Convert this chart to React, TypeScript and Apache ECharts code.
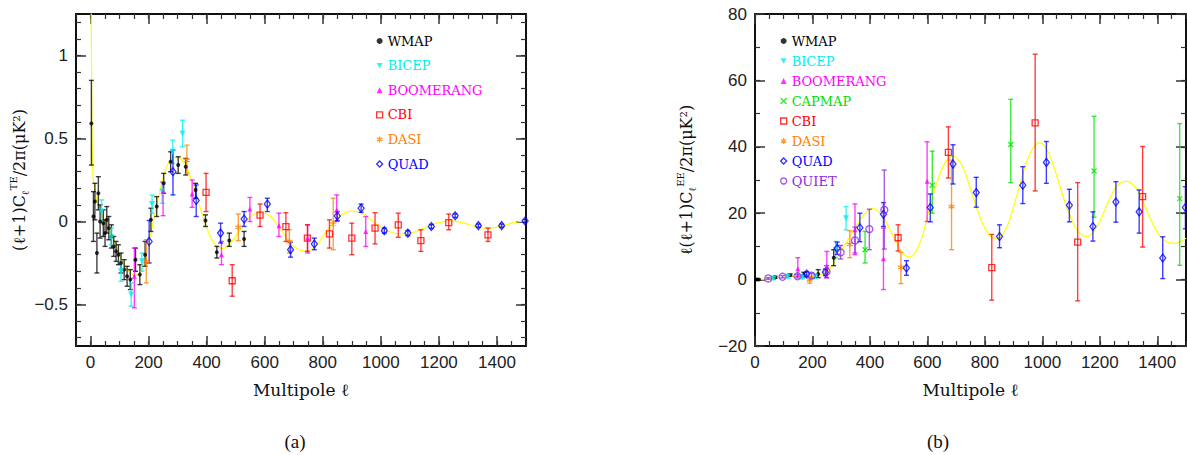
import React, { useEffect, useRef } from 'react';
import * as echarts from 'echarts';

// ---------- colours ----------
const COLORS: Record<string, string> = {
  WMAP: '#000000',
  BICEP: '#00eeee',
  BOOMERANG: '#ff00ff',
  CAPMAP: '#00e000',
  CBI: '#ff0000',
  DASI: '#ff8000',
  QUAD: '#0000ff',
  QUIET: '#8b2be2',
};

// ---------- TE panel data: [l, value, low, high] ----------
const wmapTE = [
  [3, 0.59, 0.34, 0.85], [10, 0.03, -0.12, 0.18], [15, 0.12, 0.01, 0.23], [22, -0.19, -0.31, -0.07],
  [27, 0.17, 0.07, 0.27], [33, 0.0, -0.1, 0.1], [44, -0.01, -0.09, 0.07], [50, -0.07, -0.15, 0.01],
  [56, 0.01, -0.07, 0.09], [63, -0.04, -0.11, 0.03], [72, -0.09, -0.16, -0.02], [80, -0.15, -0.21, -0.09],
  [88, -0.18, -0.24, -0.12], [96, -0.2, -0.26, -0.14], [105, -0.25, -0.31, -0.19], [116, -0.29, -0.35, -0.23],
  [126, -0.33, -0.39, -0.27], [137, -0.35, -0.41, -0.29], [155, -0.23, -0.3, -0.16], [170, -0.32, -0.38, -0.26],
  [188, -0.2, -0.27, -0.12], [208, 0.01, -0.06, 0.08], [228, 0.09, 0.03, 0.15], [252, 0.23, 0.17, 0.29],
  [276, 0.36, 0.3, 0.42], [302, 0.34, 0.29, 0.39], [328, 0.33, 0.28, 0.38], [362, 0.19, 0.14, 0.23],
  [396, 0.006, -0.03, 0.04], [435, -0.185, -0.22, -0.15], [478, -0.115, -0.15, -0.07], [529, -0.105, -0.15, -0.06],
];
const bicepTE = [
  [38, 0.06, 0.0, 0.13], [72, -0.095, -0.14, -0.04], [105, -0.3, -0.36, -0.24], [140, -0.44, -0.51, -0.37],
  [177, -0.24, -0.3, -0.19], [212, 0.105, 0.05, 0.16], [247, 0.18, 0.11, 0.24], [283, 0.42, 0.35, 0.49],
  [317, 0.53, 0.45, 0.61],
];
const boomTE = [
  [151, -0.33, -0.52, -0.16], [250, 0.18, 0.035, 0.235], [350, 0.165, 0.085, 0.25], [451, -0.2, -0.26, -0.12],
  [549, 0.075, 0.0, 0.145], [649, -0.025, -0.09, 0.05], [748, -0.1, -0.19, -0.02], [848, 0.07, 0.0, 0.16],
  [948, -0.06, -0.15, 0.03],
];
const cbiTE = [
  [398, 0.176, 0.06, 0.29], [488, -0.357, -0.45, -0.26], [584, 0.039, -0.03, 0.105], [673, -0.031, -0.12, 0.053],
  [747, -0.1, -0.18, -0.02], [823, -0.075, -0.16, 0.01], [900, -0.1, -0.2, -0.01], [980, -0.04, -0.135, 0.053],
  [1060, -0.02, -0.095, 0.05], [1138, -0.115, -0.18, -0.05], [1234, -0.007, -0.05, 0.045], [1369, -0.08, -0.12, -0.04],
];
const dasiTE = [
  [192, -0.24, -0.37, -0.11], [332, 0.37, 0.29, 0.46], [509, -0.035, -0.115, 0.045], [685, -0.12, -0.19, -0.05],
  [836, -0.015, -0.17, 0.14],
];
const quadTE = [
  [202, -0.12, -0.25, 0.006], [284, 0.3, 0.16, 0.43], [364, 0.127, 0.03, 0.22], [448, -0.07, -0.13, -0.01],
  [529, 0.015, -0.03, 0.06], [609, 0.105, 0.06, 0.14], [689, -0.17, -0.215, -0.125], [771, -0.135, -0.17, -0.1],
  [850, 0.033, 0.005, 0.06], [932, 0.08, 0.055, 0.105], [1012, -0.055, -0.07, -0.04], [1093, -0.07, -0.085, -0.055],
  [1174, -0.03, -0.042, -0.018], [1256, 0.035, 0.024, 0.046], [1336, -0.025, -0.035, -0.015], [1416, -0.025, -0.035, -0.015],
  [1497, 0.003, -0.007, 0.013],
];
const theoryTE = [
  [2, 1.45], [4, 0.8], [6, 0.42], [8, 0.3], [10, 0.25], [14, 0.2], [20, 0.14], [30, 0.08], [45, 0.02],
  [60, -0.03], [80, -0.11], [100, -0.2], [120, -0.27], [140, -0.315], [155, -0.325], [170, -0.305],
  [185, -0.24], [200, -0.14], [215, -0.01], [230, 0.11], [245, 0.23], [260, 0.32], [275, 0.37],
  [290, 0.385], [305, 0.385], [320, 0.36], [335, 0.31], [350, 0.24], [365, 0.16], [380, 0.07],
  [395, -0.01], [410, -0.08], [425, -0.13], [440, -0.155], [455, -0.162], [470, -0.152], [485, -0.125],
  [500, -0.09], [520, -0.035], [540, 0.01], [560, 0.04], [580, 0.052], [600, 0.05], [620, 0.03],
  [640, -0.01], [660, -0.06], [680, -0.11], [700, -0.15], [720, -0.172], [740, -0.178], [760, -0.17],
  [780, -0.14], [800, -0.09], [820, -0.04], [840, 0.0], [860, 0.035], [880, 0.055], [900, 0.063],
  [920, 0.06], [940, 0.045], [960, 0.02], [980, -0.01], [1000, -0.035], [1030, -0.062], [1060, -0.074],
  [1090, -0.074], [1120, -0.06], [1150, -0.04], [1180, -0.017], [1210, -0.002], [1240, 0.004],
  [1270, -0.002], [1300, -0.016], [1330, -0.032], [1360, -0.04], [1390, -0.037], [1420, -0.025],
  [1450, -0.01], [1480, 0.0], [1500, 0.003],
];

// ---------- EE panel data: [l, value, low, high] ----------
const wmapEE = [
  [5, 0.0, -0.2, 0.2], [12, 0.0, -0.2, 0.2], [70, 0.7, 0.4, 1.0], [122, 1.4, 1.1, 1.7],
  [170, 1.5, 0.8, 2.2], [220, 1.7, 0.6, 3.0], [274, 6.6, 4.2, 9.0],
];
const bicepEE = [
  [65, 0.3, 0.0, 0.6], [115, 0.9, 0.5, 1.3], [165, 0.7, 0.2, 1.2], [210, 0.9, 0.3, 1.5],
  [281, 9.0, 6.5, 11.5], [317, 18.5, 15.0, 22.0],
];
const boomEE = [
  [149, 3.3, 1.0, 6.6], [250, 4.0, 0.5, 8.5], [348, 15.0, 7.5, 22.8], [447, 6.3, -3.0, 15.5], [599, 29.6, 17.5, 41.5],
];
const capmapEE = [
  [383, 9.0, 5.0, 14.5], [617, 28.4, 20.0, 38.7], [890, 40.7, 29.2, 54.3], [1180, 32.7, 18.8, 49.2], [1478, 24.4, 4.3, 47.0],
];
const cbiEE = [
  [498, 12.6, 8.6, 16.5], [673, 38.3, 30.6, 46.0], [824, 3.6, -6.2, 13.6], [975, 47.2, 26.7, 67.9],
  [1123, 11.3, -6.4, 29.2], [1349, 25.0, 9.8, 40.1],
];
const dasiEE = [
  [190, -0.1, -1.1, 1.0], [330, 10.6, 6.6, 14.7], [508, 3.7, -1.2, 8.2], [684, 22.0, 9.0, 36.0],
];
const quadEE = [
  [180, 1.7, 1.0, 2.4], [245, 2.2, 1.2, 3.2], [286, 9.4, 7.6, 11.3], [365, 15.6, 11.4, 20.0],
  [447, 19.7, 16.0, 23.2], [527, 3.5, 1.3, 5.7], [610, 21.7, 17.4, 25.8], [689, 34.8, 28.8, 40.6],
  [770, 26.2, 21.8, 30.8], [851, 13.0, 9.6, 16.5], [932, 28.4, 22.9, 34.0], [1014, 35.3, 29.0, 41.6],
  [1094, 22.4, 17.4, 27.2], [1176, 16.0, 11.6, 20.4], [1256, 23.4, 17.3, 29.5], [1337, 20.4, 14.0, 27.0],
  [1419, 6.5, 0.3, 12.9], [1498, 21.7, 15.3, 28.0],
];
const quietEE = [
  [46, 0.35, 0.1, 0.6], [96, 0.85, 0.5, 1.2], [148, 1.0, 0.5, 1.5], [197, 1.2, 0.5, 1.9],
  [249, 2.4, 0.6, 4.2], [298, 8.2, 6.2, 10.3], [348, 11.8, 8.0, 15.8], [398, 15.2, 9.0, 21.2], [450, 21.0, 9.2, 33.0],
];
const theoryEE = [
  [2, 0], [50, 0.3], [100, 0.7], [150, 1.0], [200, 1.0], [225, 1.3], [250, 2.3], [270, 4.5], [290, 7.2],
  [310, 10], [330, 13], [350, 15.8], [370, 18.5], [390, 20.6], [400, 21.2], [410, 21.4], [430, 20.5],
  [450, 18.3], [470, 15], [490, 11.5], [510, 8.5], [525, 7.0], [540, 6.8], [560, 8.5], [580, 12.5],
  [600, 19], [620, 25.5], [640, 31], [660, 35], [680, 37], [690, 37.2], [700, 36.8], [720, 34.5],
  [740, 30], [760, 24.5], [780, 19.5], [800, 15.5], [820, 13], [840, 12.4], [860, 13.5], [880, 16.5],
  [900, 22], [920, 28], [940, 34], [960, 38.5], [980, 41], [990, 41.2], [1000, 41], [1020, 38.5],
  [1040, 34], [1060, 28.5], [1080, 23], [1100, 18.5], [1120, 15], [1140, 13.3], [1155, 13],
  [1170, 13.6], [1190, 16], [1210, 19.5], [1230, 23.5], [1250, 27], [1270, 29], [1290, 29.6],
  [1300, 29.5], [1310, 29], [1330, 27], [1350, 23.5], [1370, 19.5], [1390, 15.8], [1410, 13],
  [1430, 11.5], [1450, 11], [1465, 11], [1480, 11.3], [1500, 12.5],
];

// ---------- tick values ----------
const range = (a: number, b: number, s: number) => {
  const out: number[] = [];
  for (let v = a; v <= b + 1e-9; v += s) out.push(Math.round(v * 1000) / 1000);
  return out;
};
const xMajorTicks = [0, 200, 400, 600, 800, 1000, 1200, 1400];
const teXMinorTicks = range(-50, 1500, 50);
const teYMajorTicks = [-0.5, 0, 0.5, 1];
const teYMinorTicks = range(-0.7, 1.2, 0.1);
const eeXMinorTicks = range(0, 1500, 50);
const eeYMajorTicks = [-20, 0, 20, 40, 60, 80];
const eeYMinorTicks = range(-20, 80, 10);

const LEFT_LEGEND = ['WMAP', 'BICEP', 'BOOMERANG', 'CBI', 'DASI', 'QUAD'];
const RIGHT_LEGEND = ['WMAP', 'BICEP', 'BOOMERANG', 'CAPMAP', 'CBI', 'DASI', 'QUAD', 'QUIET'];

const SYMBOLS: Record<string, any> = {
  WMAP: { symbol: 'circle', size: 4, hollow: false },
  BICEP: { symbol: 'path://M0,0L10,0L5,9Z', size: 6, hollow: false },
  BOOMERANG: { symbol: 'triangle', size: 5, hollow: false },
  CAPMAP: { symbol: 'path://M0,0L10,10M10,0L0,10', size: 5, hollow: true },
  CBI: { symbol: 'rect', size: 6, hollow: true },
  DASI: { symbol: 'path://M5,0L5,10M0.7,2.5L9.3,7.5M0.7,7.5L9.3,2.5', size: 6, hollow: true },
  QUAD: { symbol: 'diamond', size: [6, 8], hollow: true },
  QUIET: { symbol: 'circle', size: 7, hollow: true },
};

const fmt = (v: number) => (v < 0 ? '\u2212' + Math.abs(v) : String(v));
const tickFont = { fontFamily: 'Liberation Sans', fontSize: 17, color: '#222' };
const frameLine = { show: true, onZero: false, lineStyle: { color: '#111', width: 2 } };

function axisPair(
  gridIndex: number, position: string, min: number, max: number,
  majors: number[], minors: number[], withLabels: boolean, extra: any = {}
) {
  return [
    {
      type: 'value', gridIndex, position, min, max,
      axisLine: frameLine,
      axisTick: { show: true, inside: true, length: 10, customValues: majors, lineStyle: { color: '#333', width: 1.5 } },
      axisLabel: withLabels
        ? { show: true, customValues: majors, formatter: fmt, margin: 8, ...tickFont }
        : { show: false },
      splitLine: { show: false },
      ...extra,
    },
    {
      type: 'value', gridIndex, position, min, max,
      axisLine: { show: false, onZero: false },
      axisTick: { show: true, inside: true, length: 5, customValues: minors, lineStyle: { color: '#333', width: 1.2 } },
      axisLabel: { show: false },
      splitLine: { show: false },
    },
  ];
}

function styleFor(name: string) {
  const c = COLORS[name];
  const s = SYMBOLS[name];
  return s.hollow
    ? { color: 'rgba(255,255,255,0)', borderColor: c, borderWidth: 1.3 }
    : { color: c, borderWidth: 0 };
}

function errSeries(name: string, data: number[][], xi: number, yi: number) {
  const c = COLORS[name];
  return {
    type: 'custom', name: name + ' err', xAxisIndex: xi, yAxisIndex: yi, data, clip: true, silent: true, z: 3,
    encode: { x: 0, y: [2, 3] },
    renderItem: (params: any, api: any) => {
      const x = api.value(0);
      const p1 = api.coord([x, api.value(2)]);
      const p2 = api.coord([x, api.value(3)]);
      const w = 2.5;
      const style = { stroke: c, lineWidth: 1.4, opacity: 0.75 };
      return {
        type: 'group',
        children: [
          { type: 'line', shape: { x1: p1[0], y1: p1[1], x2: p2[0], y2: p2[1] }, style },
          { type: 'line', shape: { x1: p1[0] - w, y1: p1[1], x2: p1[0] + w, y2: p1[1] }, style },
          { type: 'line', shape: { x1: p2[0] - w, y1: p2[1], x2: p2[0] + w, y2: p2[1] }, style },
        ],
      };
    },
  };
}

function pointSeries(name: string, data: number[][], xi: number, yi: number) {
  const s = SYMBOLS[name];
  return {
    type: 'scatter', name, xAxisIndex: xi, yAxisIndex: yi, data, z: 4,
    encode: { x: 0, y: 1 },
    symbol: s.symbol, symbolSize: s.size,
    itemStyle: styleFor(name),
    clip: true, silent: true,
  };
}

function theorySeries(data: number[][], xi: number, yi: number) {
  return {
    type: 'line', name: 'theory', xAxisIndex: xi, yAxisIndex: yi, data, showSymbol: false, smooth: 0.3,
    lineStyle: { color: '#ffff00', width: 1.2 }, z: 2, clip: true, silent: true,
  };
}

function legendFor(names: string[], left: number, top: number, lineHeight: number, gap: number) {
  return {
    orient: 'vertical', left, top, itemWidth: 6, itemHeight: 6, itemGap: gap, selectedMode: false,
    textStyle: { fontFamily: 'DejaVu Serif', fontSize: 13, lineHeight },
    data: names.map((n) => ({
      name: n,
      icon: SYMBOLS[n].symbol,
      itemStyle: styleFor(n),
      textStyle: { color: COLORS[n] },
    })),
  };
}

const titleRich = {
  a: { fontFamily: 'DejaVu Serif', fontSize: 16, color: '#111', lineHeight: 22 },
  sub: { fontFamily: 'DejaVu Serif', fontSize: 10, color: '#111', verticalAlign: 'bottom' },
  sup: { fontFamily: 'DejaVu Serif', fontSize: 10, color: '#111', verticalAlign: 'top' },
};
const xNameStyle = { fontFamily: 'DejaVu Serif', fontSize: 17, color: '#111' };

export default function App() {
  const ref = useRef<HTMLDivElement>(null);
  useEffect(() => {
    const chart = echarts.init(ref.current!, null, { renderer: 'svg' });
    const xAxis = [
      ...axisPair(0, 'bottom', -50, 1500, xMajorTicks, teXMinorTicks, true, {
        name: 'Multipole \u2113', nameLocation: 'middle', nameGap: 35, nameTextStyle: xNameStyle,
      }),
      ...axisPair(0, 'top', -50, 1500, xMajorTicks, teXMinorTicks, false),
      ...axisPair(1, 'bottom', 0, 1500, xMajorTicks, eeXMinorTicks, true, {
        name: 'Multipole \u2113', nameLocation: 'middle', nameGap: 35, nameTextStyle: xNameStyle,
      }),
      ...axisPair(1, 'top', 0, 1500, xMajorTicks, eeXMinorTicks, false),
    ];
    const yAxis = [
      ...axisPair(0, 'left', -0.75, 1.25, teYMajorTicks, teYMinorTicks, true, {
        name: '{a|(\u2113+1)C}{sub|\u2113}{sup|TE}{a|/2\u03c0(\u03bcK\u00b2)}',
        nameLocation: 'middle', nameGap: 46, nameRotate: 90, nameTextStyle: { rich: titleRich },
      }),
      ...axisPair(0, 'right', -0.75, 1.25, teYMajorTicks, teYMinorTicks, false),
      ...axisPair(1, 'left', -20, 80, eeYMajorTicks, eeYMinorTicks, true, {
        name: '{a|\u2113(\u2113+1)C}{sub|\u2113}{sup|EE}{a|/2\u03c0(\u03bcK\u00b2)}',
        nameLocation: 'middle', nameGap: 58, nameRotate: 90, nameTextStyle: { rich: titleRich },
      }),
      ...axisPair(1, 'right', -20, 80, eeYMajorTicks, eeYMinorTicks, false),
    ];

    const teSets: [string, number[][]][] = [
      ['WMAP', wmapTE], ['BICEP', bicepTE], ['BOOMERANG', boomTE], ['CBI', cbiTE], ['DASI', dasiTE], ['QUAD', quadTE],
    ];
    const eeSets: [string, number[][]][] = [
      ['WMAP', wmapEE], ['BICEP', bicepEE], ['BOOMERANG', boomEE], ['CAPMAP', capmapEE], ['CBI', cbiEE],
      ['DASI', dasiEE], ['QUAD', quadEE], ['QUIET', quietEE],
    ];
    const series: any[] = [theorySeries(theoryTE, 0, 0), theorySeries(theoryEE, 4, 4)];
    teSets.forEach(([n, d]) => series.push(errSeries(n, d, 0, 0)));
    eeSets.forEach(([n, d]) => series.push(errSeries(n, d, 4, 4)));
    teSets.forEach(([n, d]) => series.push(pointSeries(n, d, 0, 0)));
    eeSets.forEach(([n, d]) => series.push(pointSeries(n, d, 4, 4)));

    chart.setOption({
      animation: false,
      backgroundColor: '#ffffff',
      grid: [
        { left: 76, top: 14, width: 450, height: 332 },
        { left: 755, top: 14, width: 431, height: 332 },
      ],
      xAxis,
      yAxis,
      legend: [legendFor(LEFT_LEGEND, 371, 28, 16, 8.6), legendFor(RIGHT_LEGEND, 775, 29, 14, 6)],
      series,
      graphic: [
        { type: 'text', style: { text: '(a)', x: 295, y: 441, align: 'center', verticalAlign: 'middle', fontFamily: 'Liberation Serif', fontSize: 19, fill: '#111' } },
        { type: 'text', style: { text: '(b)', x: 938, y: 441, align: 'center', verticalAlign: 'middle', fontFamily: 'Liberation Serif', fontSize: 19, fill: '#111' } },
      ],
    });
    return () => chart.dispose();
  }, []);
  return <div ref={ref} style={{ position: 'absolute', left: 0, top: 0, width: 1187, height: 455 }} />;
}
